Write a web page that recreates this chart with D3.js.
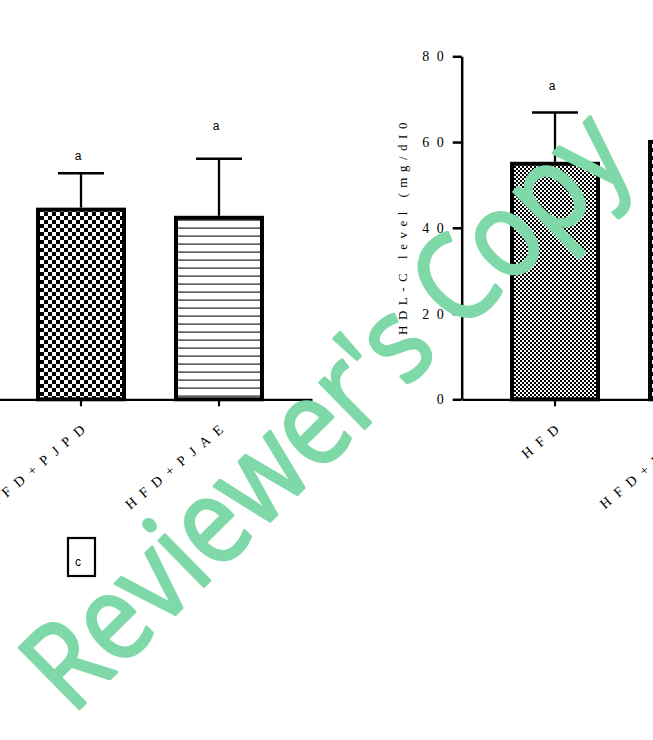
<!DOCTYPE html>
<html>
<head>
<meta charset="utf-8">
<script src="https://cdn.jsdelivr.net/npm/d3@7"></script>
<style>
  html, body { margin: 0; padding: 0; background: #fff; overflow: hidden; }
  svg { display: block; }
</style>
</head>
<body>
<svg id="chart" width="653" height="740"></svg>
<script>
// ---- data -------------------------------------------------------------
// left panel (continues off the left edge)
const leftCategories = ["HFD+PJPD", "HFD+PJAE"];
const leftMeans      = [44.7, 42.8];
const leftSD         = [8.0, 13.3];
const leftLetters    = ["a", "a"];
const leftLetterAt   = [55.8, 62.7];

// right panel: HDL-C (continues off the right edge)
const rightCategories = ["HFD", "HFD+PJPD"];
const rightMeans      = [55.4, 60.5];
const rightSD         = [11.5, null];
const rightLetters    = ["a", null];
const rightLetterAt   = [72.1, null];

const yTicks = [0, 20, 40, 60, 80];
const yLabel = "HDL-C level (mg/dI0";
const panelTag = "c";
const watermark = "Reviewer's Copy";

// ---- setup ------------------------------------------------------------
const svg = d3.select("#chart");
const serif = "'Liberation Serif', 'Times New Roman', serif";
const sans = "'Liberation Sans', Arial, sans-serif";

const defs = svg.append("defs");
function checker(id, cell) {
  const p = defs.append("pattern").attr("id", id)
    .attr("patternUnits", "userSpaceOnUse")
    .attr("width", cell * 2).attr("height", cell * 2);
  p.append("rect").attr("width", cell * 2).attr("height", cell * 2).attr("fill", "#fff");
  p.append("rect").attr("width", cell).attr("height", cell).attr("fill", "#000");
  p.append("rect").attr("x", cell).attr("y", cell).attr("width", cell).attr("height", cell).attr("fill", "#000");
}
checker("checkLarge", 4);
checker("checkSmall", 2);
const hl = defs.append("pattern").attr("id", "hlines")
  .attr("patternUnits", "userSpaceOnUse").attr("width", 8).attr("height", 8);
hl.append("rect").attr("width", 8).attr("height", 8).attr("fill", "#fff");
hl.append("rect").attr("y", 3.5).attr("width", 8).attr("height", 1.2).attr("fill", "#222");

const y = d3.scaleLinear().domain([0, 80]).range([399.3, 56.3]);

const xLeft = d3.scaleBand().domain(leftCategories).range([-12, 312])
  .paddingInner(0.348).paddingOuter(0.348);
const xRight = d3.scaleBand().domain(rightCategories).range([462, 786])
  .paddingInner(0.348).paddingOuter(0.348);

const fills = {
  left: ["url(#checkLarge)", "url(#hlines)"],
  right: ["url(#checkSmall)", "url(#checkLarge)"]
};

function drawPanel(x, cats, means, sds, letters, letterAt, fillList) {
  const g = svg.append("g");
  const bw = x.bandwidth();
  const sw = 4;

  // bars
  g.selectAll("rect.bar").data(cats).join("rect")
    .attr("class", "bar")
    .attr("x", d => x(d) + sw / 2)
    .attr("width", bw - sw)
    .attr("y", (d, i) => y(means[i]) + sw / 2)
    .attr("height", (d, i) => y(0) - y(means[i]) - sw / 2)
    .attr("fill", (d, i) => fillList[i])
    .attr("stroke", "#000").attr("stroke-width", sw);

  // error bars (upper only)
  const eb = cats.map((c, i) => ({ c, m: means[i], s: sds[i] })).filter(d => d.s != null);
  g.selectAll("line.stem").data(eb).join("line")
    .attr("x1", d => x(d.c) + bw / 2).attr("x2", d => x(d.c) + bw / 2)
    .attr("y1", d => y(d.m)).attr("y2", d => y(d.m + d.s))
    .attr("stroke", "#000").attr("stroke-width", 2.3);
  g.selectAll("line.cap").data(eb).join("line")
    .attr("x1", d => x(d.c) + bw / 2 - 23).attr("x2", d => x(d.c) + bw / 2 + 23)
    .attr("y1", d => y(d.m + d.s)).attr("y2", d => y(d.m + d.s))
    .attr("stroke", "#000").attr("stroke-width", 2.5);

  // significance letters
  const lt = cats.map((c, i) => ({ c, t: letters[i], v: letterAt[i] })).filter(d => d.t);
  g.selectAll("text.sig").data(lt).join("text")
    .attr("x", d => x(d.c) + bw / 2 - 3)
    .attr("y", d => y(d.v))
    .attr("text-anchor", "middle")
    .attr("font-family", sans).attr("font-size", 12)
    .text(d => d.t);

  // category axis
  const ax = svg.append("g").attr("transform", `translate(0,${y(0)})`)
    .call(d3.axisBottom(x).tickSize(7).tickSizeOuter(0));
  ax.select(".domain").attr("stroke", "#000").attr("stroke-width", 2.2);
  ax.selectAll(".tick line").attr("stroke", "#000").attr("stroke-width", 2.2);
  ax.selectAll(".tick text")
    .attr("x", 0).attr("y", 0).attr("dy", 0)
    .attr("transform", "translate(11,27) rotate(-40)")
    .attr("text-anchor", "end")
    .attr("font-family", serif).attr("font-size", 14)
    .attr("letter-spacing", "7.8px")
    .attr("fill", "#000");
}

drawPanel(xLeft, leftCategories, leftMeans, leftSD, leftLetters, leftLetterAt, fills.left);
drawPanel(xRight, rightCategories, rightMeans, rightSD, rightLetters, rightLetterAt, fills.right);

// value axis of the right panel
const yAxis = svg.append("g").attr("transform", "translate(461.7,0)")
  .call(d3.axisLeft(y).tickValues(yTicks).tickSize(9).tickSizeOuter(0).tickPadding(1.5));
yAxis.select(".domain").attr("stroke", "#000").attr("stroke-width", 2.5);
yAxis.selectAll(".tick line").attr("stroke", "#000").attr("stroke-width", 2.5);
yAxis.selectAll(".tick text")
  .attr("font-family", serif).attr("font-size", 14)
  .attr("letter-spacing", "7.5px").attr("fill", "#000");

svg.append("text")
  .attr("transform", "translate(407,226) rotate(-90)")
  .attr("text-anchor", "middle")
  .attr("font-family", serif).attr("font-size", 13)
  .attr("letter-spacing", "5.5px")
  .text(yLabel);

// panel tag
svg.append("rect").attr("x", 68).attr("y", 538).attr("width", 27).attr("height", 38)
  .attr("fill", "#fff").attr("stroke", "#000").attr("stroke-width", 2.2);
svg.append("text").attr("x", 78).attr("y", 566).attr("text-anchor", "middle")
  .attr("font-family", sans).attr("font-size", 12).text(panelTag);

// watermark across the page (condensed to a fixed run length)
svg.append("text")
  .attr("transform", "translate(72,716) rotate(-44.5)")
  .attr("font-family", "'Open Sans', sans-serif").attr("font-size", 120)
  .attr("textLength", 790).attr("lengthAdjust", "spacingAndGlyphs")
  .attr("fill", "#7fd8a8")
  .attr("stroke", "#7fd8a8").attr("stroke-width", 3).attr("stroke-linejoin", "round")
  .text(watermark);
</script>
</body>
</html>
